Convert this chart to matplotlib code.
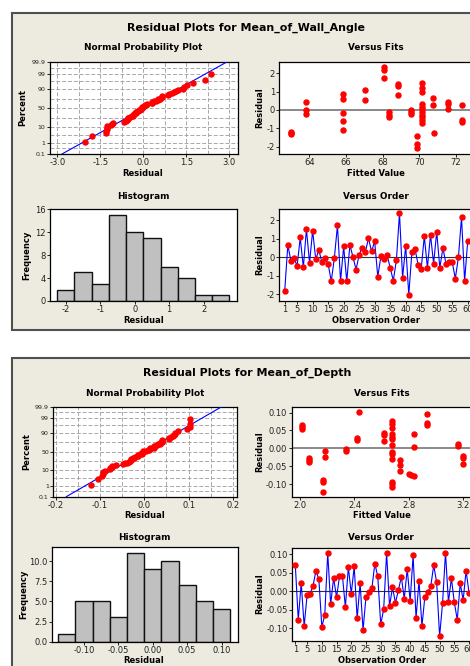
import matplotlib
matplotlib.use('Agg')
import matplotlib.pyplot as plt
import numpy as np
from statistics import NormalDist
from matplotlib.patches import Rectangle

# ---------------- data ----------------
wall_resid = [-1.80, 0.66, -0.20, -0.04, -0.46, 1.07, -0.54, 1.52, -0.30, 1.43,
              -0.10, 0.39, -0.27, -0.04, -0.36, -1.29, -0.04, 1.72, -1.27, 0.59,
              -1.30, 0.66, 0.02, -0.66, 0.14, 0.52, 0.29, 1.02, 0.32, 0.86,
              -1.05, 0.05, -0.07, 0.11, -0.55, -1.26, -0.16, 2.36, -1.09, 0.61,
              -2.02, 0.29, 0.45, -0.39, -0.62, 1.13, -0.55, 1.21, -0.34, 1.38,
              -0.57, 0.50, -0.36, -0.27, -0.26, -1.14, 0.00, 2.16, -1.27, 0.89]
wall_fit_x = [63.0, 63.0, 63.0, 63.8, 63.8, 63.8,
              65.85, 65.85, 65.85, 65.85, 65.85, 67.05, 67.05,
              68.1, 68.1, 68.1, 68.35, 68.35, 68.35, 68.85, 68.85, 68.85,
              69.55, 69.55, 69.55, 69.9, 69.9, 69.9,
              70.13, 70.13, 70.13, 70.13, 70.13, 70.13, 70.13, 70.13, 70.13, 70.13, 70.13,
              70.72, 70.72, 70.8, 71.55, 71.55, 71.55, 72.33, 72.33, 72.33]
wall_fit_y = [-1.18, -1.25, -1.32, 0.42, 0.0, -0.24,
              0.85, 0.60, -0.18, -0.58, -1.09, 1.09, 0.55,
              2.36, 2.18, 1.73, -0.13, -0.27, -0.36, 1.40, 1.33, 0.82,
              -0.02, -0.13, -0.24, -1.42, -1.85, -2.07,
              1.49, 1.18, 1.00, 0.33, 0.18, 0.04, -0.09, -0.27, -0.40, -0.55, -0.69,
              0.64, 0.27, -1.24, 0.42, 0.34, 0.04, 0.27, -0.55, -0.64]

depth_resid = [0.070, -0.077, 0.023, -0.094, -0.010, -0.006, 0.014, 0.056, 0.032, -0.096,
               -0.064, 0.104, -0.035, 0.036, -0.016, 0.040, 0.041, -0.043, 0.065, -0.006,
               0.067, -0.073, 0.022, -0.105, -0.014, -0.003, 0.008, 0.075, 0.040, -0.089,
               -0.049, 0.104, -0.040, 0.011, -0.031, 0.003, 0.039, -0.020, 0.060, -0.026,
               0.097, -0.072, 0.029, -0.094, -0.014, -0.002, 0.014, 0.070, 0.024, -0.121,
               -0.032, 0.104, -0.029, 0.035, -0.030, -0.077, 0.022, -0.024, 0.056, -0.005]
depth_fit_x = [2.010, 2.010, 2.010, 2.062, 2.062, 2.062, 2.170, 2.170, 2.170,
               2.182, 2.182, 2.337, 2.337, 2.421, 2.421, 2.436,
               2.620, 2.620, 2.620,
               2.679, 2.679, 2.679, 2.679, 2.679, 2.679, 2.679, 2.679, 2.679, 2.679, 2.679, 2.679, 2.679,
               2.738, 2.738, 2.738, 2.805, 2.820, 2.838, 2.837, 2.837,
               2.933, 2.933, 2.933, 3.162, 3.162, 3.199, 3.199, 3.199]
depth_fit_y = [0.065, 0.060, 0.054, -0.028, -0.033, -0.039, -0.089, -0.094, -0.121,
               -0.007, -0.025, -0.002, -0.007, 0.028, 0.023, 0.103,
               0.042, 0.036, 0.021,
               0.077, 0.067, 0.056, 0.039, 0.033, 0.026, 0.009, -0.011, -0.017, -0.030, -0.095, -0.101, -0.107,
               -0.033, -0.047, -0.064, -0.073, -0.076, -0.077, 0.039, 0.003,
               0.096, 0.070, 0.065, 0.012, 0.007, -0.021, -0.028, -0.045]

wall_bin_start, wall_bin_width, wall_nbins = -2.25, 0.5, 10
depth_bin_start, depth_bin_width, depth_nbins = -0.1375, 0.025, 10

prob_ticks = [0.1, 1, 10, 50, 90, 99, 99.9]
prob_labels = ['0.1', '1', '10', '50', '90', '99', '99.9']

# ---------------- style ----------------
W, H = 470, 666
fig = plt.figure(figsize=(W / 100, H / 100), dpi=100)
fig.patch.set_facecolor('white')
plt.rcParams['font.family'] = ['DejaVu Sans']
BG = '#EDEAE0'
RED = '#FF0000'
BLUE = '#0000FF'
TICK_FS = 6
LAB_FS = 6

TITLE_KW = dict(fontsize=7.9, fontweight='bold')
SUB_KW = dict(fontsize=6.4, fontweight='bold')
LAB_KW = dict(fontsize=LAB_FS, fontweight='bold')


def box(l, t, r, b):
    return [l / W, 1 - b / H, (r - l) / W, (b - t) / H]


def ftext(x, y, s, **kw):
    fig.text(x / W, 1 - y / H, s, ha='center', va='center', **kw)


def style(ax):
    ax.set_facecolor('white')
    for side in ['top', 'right', 'left', 'bottom']:
        ax.spines[side].set_linewidth(0.9)
    ax.tick_params(direction='out', length=2.2, width=0.7, labelsize=TICK_FS, pad=1.0,
                   colors='#222222')
    ax.tick_params(which='minor', length=0)


_nd = NormalDist()
_inv = np.vectorize(lambda v: _nd.inv_cdf(v / 100.0), otypes=[float])
_cdf = np.vectorize(lambda v: _nd.cdf(v) * 100.0, otypes=[float])


def p2z(p):
    p = np.clip(np.asarray(p, dtype=float), 1e-6, 100 - 1e-6)
    return _inv(p)


def z2p(z):
    return _cdf(np.asarray(z, dtype=float))


# panels
for (t, b) in [(13, 330), (358, 720)]:
    fig.add_artist(Rectangle((12 / W, 1 - b / H), (490 - 12) / W, (b - t) / H,
                             transform=fig.transFigure, facecolor=BG,
                             edgecolor='#505050', linewidth=1.5, zorder=-10))


def prob_plot(ax, resid, xlim, xticks, xlabels, grid_step):
    r = np.sort(np.asarray(resid))
    n = len(r)
    pct = (np.arange(1, n + 1) - 0.3) / (n + 0.4) * 100
    ax.set_yscale('function', functions=(p2z, z2p))
    mu, sd = r.mean(), r.std(ddof=1)
    pl = np.array([0.1, 99.9])
    ax.plot(mu + sd * p2z(pl), pl, color=BLUE, lw=0.8, zorder=3)
    ax.plot(r, pct, 'o', color=RED, ms=3.6, mec=RED, zorder=4)
    ax.set_ylim(0.1, 99.9)
    ax.set_xlim(*xlim)
    ax.set_yticks(prob_ticks)
    ax.set_yticklabels(prob_labels)
    zt = p2z(prob_ticks)
    mids = z2p((zt[:-1] + zt[1:]) / 2)
    ax.set_yticks(mids, minor=True)
    ax.set_xticks(xticks)
    ax.set_xticklabels(xlabels)
    g = np.arange(xticks[0], xticks[-1] + grid_step / 2, grid_step)
    ax.set_xticks(g, minor=True)
    ax.grid(True, which='both', color='#A8A8A8', ls=(0, (4, 2)), lw=0.7)
    ax.set_axisbelow(True)
    style(ax)
    ax.tick_params(axis='y', labelsize=4.5)


def fits_plot(ax, fx, fy, xlim, ylim, xticks, xlabels, yticks, ylabels):
    ax.axhline(0, color='#808080', lw=1.3, zorder=2)
    ax.plot(fx, fy, 'o', color=RED, ms=3.6, mec=RED, zorder=3)
    ax.set_xlim(*xlim)
    ax.set_ylim(*ylim)
    ax.set_xticks(xticks)
    ax.set_xticklabels(xlabels)
    ax.set_yticks(yticks)
    ax.set_yticklabels(ylabels)
    style(ax)


def hist_plot(ax, resid, start, width, nb, xlim, ylim, xticks, xlabels, yticks, ylabels):
    edges = start + width * np.arange(nb + 1)
    ax.hist(resid, bins=edges, color='#C0C0C0', edgecolor='#111111', linewidth=1.0)
    ax.set_xlim(*xlim)
    ax.set_ylim(*ylim)
    ax.set_xticks(xticks)
    ax.set_xticklabels(xlabels)
    ax.set_yticks(yticks)
    ax.set_yticklabels(ylabels)
    style(ax)


def order_plot(ax, resid, xlim, ylim, yticks, ylabels):
    obs = np.arange(1, len(resid) + 1)
    ax.axhline(0, color='#303030', lw=0.8, zorder=2)
    ax.plot(obs, resid, '-', color=BLUE, lw=0.8, zorder=3)
    ax.plot(obs, resid, 'o', color=RED, ms=3.6, mec=RED, zorder=4)
    ax.set_xlim(*xlim)
    ax.set_ylim(*ylim)
    xt = [1, 5, 10, 15, 20, 25, 30, 35, 40, 45, 50, 55, 60]
    ax.set_xticks(xt)
    ax.set_xticklabels([str(v) for v in xt])
    ax.set_yticks(yticks)
    ax.set_yticklabels(ylabels)
    style(ax)


# ---------------- panel 1: wall angle ----------------
ftext(246, 28, 'Residual Plots for Mean_of_Wall_Angle', **TITLE_KW)
ftext(143, 48, 'Normal Probability Plot', **SUB_KW)
ftext(376, 48, 'Versus Fits', **SUB_KW)
ftext(143.5, 196.5, 'Histogram', **SUB_KW)
ftext(376, 196.5, 'Versus Order', **SUB_KW)

ax = fig.add_axes(box(50, 62.3, 238, 154))
prob_plot(ax, wall_resid, (-3.26, 3.31), [-3.0, -1.5, 0.0, 1.5, 3.0],
          ['-3.0', '-1.5', '0.0', '1.5', '3.0'], 0.75)
ax = fig.add_axes(box(279.3, 62.3, 473, 154))
fits_plot(ax, wall_fit_x, wall_fit_y, (62.36, 72.93), (-2.4, 2.6),
          [64, 66, 68, 70, 72], ['64', '66', '68', '70', '72'],
          [-2, -1, 0, 1, 2], ['-2', '-1', '0', '1', '2'])
ax = fig.add_axes(box(50, 209.3, 237, 301))
hist_plot(ax, wall_resid, wall_bin_start, wall_bin_width, wall_nbins, (-2.46, 2.97), (0, 16),
          [-2, -1, 0, 1, 2], ['-2', '-1', '0', '1', '2'],
          [0, 4, 8, 12, 16], ['0', '4', '8', '12', '16'])
ax = fig.add_axes(box(279.3, 209, 473, 301))
order_plot(ax, wall_resid, (-0.75, 61.7), (-2.35, 2.6),
           [-2, -1, 0, 1, 2], ['-2', '-1', '0', '1', '2'])

ftext(143, 173, 'Residual', **LAB_KW)
ftext(376, 173, 'Fitted Value', **LAB_KW)
ftext(23, 108, 'Percent', rotation=90, **LAB_KW)
ftext(259.5, 108, 'Residual', rotation=90, **LAB_KW)
ftext(27, 255, 'Frequency', rotation=90, **LAB_KW)
ftext(259.5, 255, 'Residual', rotation=90, **LAB_KW)
ftext(143.5, 320, 'Residual', **LAB_KW)
ftext(376, 320, 'Observation Order', **LAB_KW)

# ---------------- panel 2: depth ----------------
ftext(246.7, 372.7, 'Residual Plots for Mean_of_Depth', **TITLE_KW)
ftext(144.7, 393.3, 'Normal Probability Plot', **SUB_KW)
ftext(381.7, 393.3, 'Versus Fits', **SUB_KW)
ftext(144, 537.7, 'Histogram', **SUB_KW)
ftext(381, 537.7, 'Versus Order', **SUB_KW)

ax = fig.add_axes(box(53.3, 406.7, 237, 496.7))
prob_plot(ax, depth_resid, (-0.205, 0.209), [-0.2, -0.1, 0.0, 0.1, 0.2],
          ['-0.2', '-0.1', '0.0', '0.1', '0.2'], 0.05)
ax = fig.add_axes(box(291.7, 407.3, 471.7, 496.7))
fits_plot(ax, depth_fit_x, depth_fit_y, (1.936, 3.266), (-0.1355, 0.115),
          [2.0, 2.4, 2.8, 3.2], ['2.0', '2.4', '2.8', '3.2'],
          [-0.10, -0.05, 0.0, 0.05, 0.10], ['-0.10', '-0.05', '0.00', '0.05', '0.10'])
ax = fig.add_axes(box(52.3, 547.3, 237.7, 641.7))
hist_plot(ax, depth_resid, depth_bin_start, depth_bin_width, depth_nbins, (-0.146, 0.1235), (0, 11.7),
          [-0.10, -0.05, 0.0, 0.05, 0.10], ['-0.10', '-0.05', '0.00', '0.05', '0.10'],
          [0, 2.5, 5.0, 7.5, 10.0], ['0.0', '2.5', '5.0', '7.5', '10.0'])
ax = fig.add_axes(box(292, 548.3, 471.7, 641))
order_plot(ax, depth_resid, (-0.13, 60.9), (-0.134, 0.116),
           [-0.10, -0.05, 0.0, 0.05, 0.10], ['-0.10', '-0.05', '0.00', '0.05', '0.10'])

ftext(144.3, 516, 'Residual', **LAB_KW)
ftext(381.7, 516, 'Fitted Value', **LAB_KW)
ftext(26.7, 451.7, 'Percent', rotation=90, **LAB_KW)
ftext(259.5, 451.7, 'Residual', rotation=90, **LAB_KW)
ftext(23.3, 594, 'Frequency', rotation=90, **LAB_KW)
ftext(259.5, 594, 'Residual', rotation=90, **LAB_KW)
ftext(144, 660.5, 'Residual', **LAB_KW)
ftext(381.7, 660.5, 'Observation Order', **LAB_KW)

fig.savefig('out.png', dpi=100)
